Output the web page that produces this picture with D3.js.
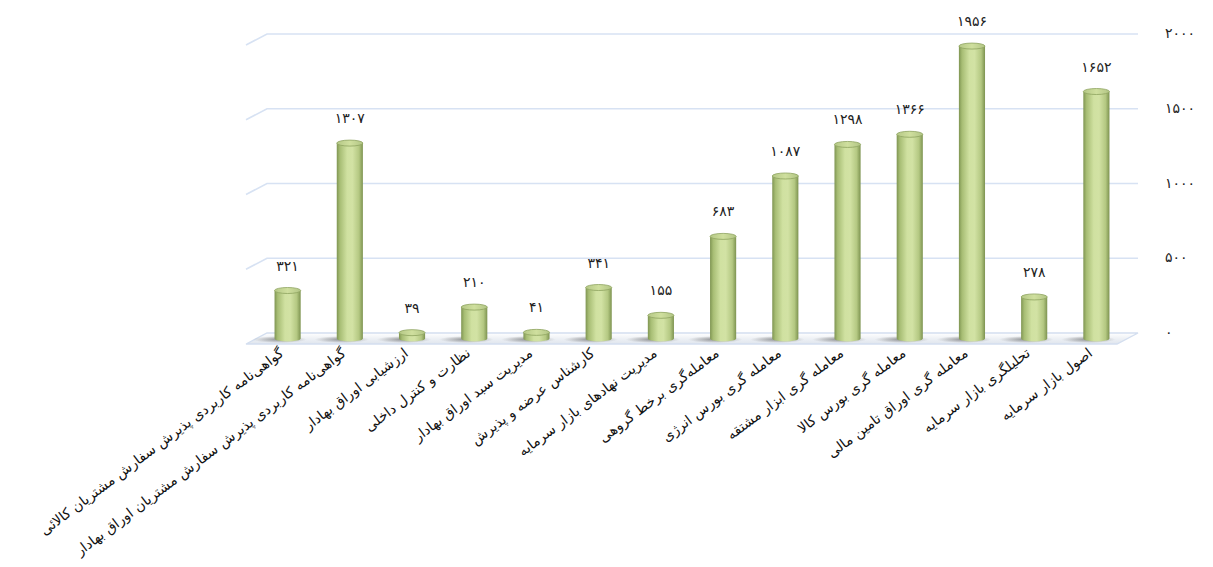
<!DOCTYPE html>
<html><head><meta charset="utf-8">
<script src="https://cdn.jsdelivr.net/npm/d3@7"></script>
<style>
html,body{margin:0;padding:0;background:#fff;}
svg{display:block;}
</style></head>
<body>
<svg id="chart" width="1213" height="567"></svg>
<script>
const categories = [
  "گواهی‌نامه کاربردی پذیرش سفارش مشتریان کالائی",
  "گواهی‌نامه کاربردی پذیرش سفارش مشتریان اوراق بهادار",
  "ارزشیابی اوراق بهادار",
  "نظارت و کنترل داخلی",
  "مدیریت سبد اوراق بهادار",
  "کارشناس عرضه و پذیرش",
  "مدیریت نهادهای بازار سرمایه",
  "معامله‌گری برخط گروهی",
  "معامله گری بورس انرژی",
  "معامله گری ابزار مشتقه",
  "معامله گری بورس کالا",
  "معامله گری اوراق تامین مالی",
  "تحلیلگری بازار سرمایه",
  "اصول بازار سرمایه"
];
const values = [321, 1307, 39, 210, 41, 341, 155, 683, 1087, 1298, 1366, 1956, 278, 1652];
const yTicks = [0, 500, 1000, 1500, 2000];

const fa = s => String(s).replace(/\d/g, d => "۰۱۲۳۴۵۶۷۸۹"[d]);

const svg = d3.select("#chart");
const defs = svg.append("defs");

const depthX = -21, depthY = 11;
const x = d3.scaleBand().domain(categories).range([267, 1138]).paddingInner(0.58).paddingOuter(0.29);
const y = d3.scaleLinear().domain([0, 2000]).range([333, 34]);

const bg = defs.append("linearGradient").attr("id", "barGrad").attr("x1", "0").attr("x2", "1").attr("y1", "0").attr("y2", "0");
[["0%", "#7f9552"], ["12%", "#a7bd74"], ["40%", "#d0e1a1"], ["60%", "#d2e2a4"], ["85%", "#b4c882"], ["100%", "#7d9350"]]
  .forEach(([o, c]) => bg.append("stop").attr("offset", o).attr("stop-color", c));
const tg = defs.append("linearGradient").attr("id", "topGrad").attr("x1", "0").attr("x2", "1");
[["0%", "#b5c886"], ["50%", "#cfdf9e"], ["100%", "#b2c585"]].forEach(([o, c]) => tg.append("stop").attr("offset", o).attr("stop-color", c));
const sh = defs.append("radialGradient").attr("id", "shadowGrad");
[["0%", "rgba(60,60,60,0.55)"], ["60%", "rgba(90,90,90,0.25)"], ["100%", "rgba(120,120,120,0)"]]
  .forEach(([o, c]) => sh.append("stop").attr("offset", o).attr("stop-color", c));
const fg = defs.append("linearGradient").attr("id", "floorGrad").attr("x1", "0").attr("x2", "0").attr("y1", "0").attr("y2", "1");
[["0%", "#ffffff"], ["50%", "#eef1f5"], ["100%", "#dfe5ee"]].forEach(([o, c]) => fg.append("stop").attr("offset", o).attr("stop-color", c));

const x0 = x.range()[0], x1 = x.range()[1];

svg.append("g").selectAll("path").data(yTicks.filter(t => t > 0)).join("path")
  .attr("d", t => `M${x0 + depthX},${y(t) + depthY}L${x0},${y(t)}L${x1},${y(t)}`)
  .attr("fill", "none").attr("stroke", "#d7e2f3").attr("stroke-width", 1.6);

const yf = y(0);
svg.append("path")
  .attr("d", `M${x0},${yf}L${x1},${yf}L${x1 + depthX},${yf + depthY}L${x0 + depthX},${yf + depthY}Z`)
  .attr("fill", "url(#floorGrad)").attr("stroke", "#d3deef").attr("stroke-width", 1.4);

const mdx = depthX / 2, mdy = depthY / 2;
const bw = x.bandwidth();
const ry = 3;
const g = svg.append("g");

g.selectAll("ellipse.sh").data(values).join("ellipse").attr("class", "sh")
  .attr("cx", (d, i) => x(categories[i]) + mdx + bw / 2 - 8)
  .attr("cy", yf + mdy + 1)
  .attr("rx", bw * 1.05).attr("ry", 3.5)
  .attr("fill", "url(#shadowGrad)");

const bars = g.selectAll("g.bar").data(values).join("g").attr("class", "bar")
  .attr("transform", (d, i) => `translate(${x(categories[i]) + mdx},${mdy})`);

bars.append("path")
  .attr("d", d => {
    const top = y(d), bot = y(0);
    return `M0,${top}L0,${bot}A${bw / 2},${ry} 0 0 0 ${bw},${bot}L${bw},${top}Z`;
  })
  .attr("fill", "url(#barGrad)");
bars.append("ellipse")
  .attr("cx", bw / 2).attr("cy", d => y(d)).attr("rx", bw / 2).attr("ry", ry)
  .attr("fill", "url(#topGrad)").attr("stroke", "#8ea35f").attr("stroke-width", 0.8);

svg.append("g").selectAll("text").data(values).join("text")
  .attr("x", (d, i) => x(categories[i]) + mdx + bw / 2)
  .attr("y", d => y(d) + mdy - 20)
  .attr("text-anchor", "middle")
  .attr("font-family", "DejaVu Sans")
  .attr("font-size", 14)
  .attr("letter-spacing", 3)
  .attr("fill", "#222")
  .text(d => fa(d));

svg.append("g").selectAll("text").data(yTicks).join("text")
  .attr("x", 1165)
  .attr("y", t => y(t) + 4)
  .attr("text-anchor", "start")
  .attr("font-family", "DejaVu Sans")
  .attr("font-size", 14)
  .attr("letter-spacing", 6)
  .attr("fill", "#222")
  .text(t => fa(t));

svg.append("g").selectAll("text").data(categories).join("text")
  .attr("transform", (d, i) => `translate(${x(d) + mdx + bw / 2 - 3},${355}) rotate(-37)`)
  .attr("text-anchor", "end")
  .attr("font-family", "DejaVu Sans")
  .attr("font-size", 14)
  .attr("fill", "#111")
  .text(d => d);
</script>
</body></html>
